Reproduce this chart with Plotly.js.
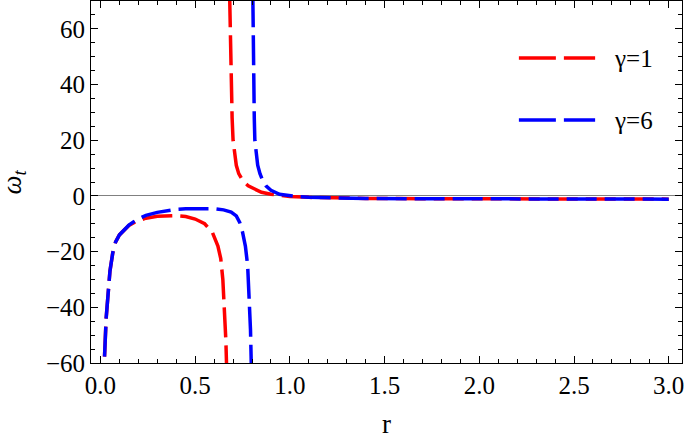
<!DOCTYPE html>
<html>
<head>
<meta charset="utf-8">
<script src="https://cdn.plot.ly/plotly-3.0.1.min.js"></script>
<style>
  html, body { margin: 0; padding: 0; background: #fff; }
  #plot { width: 685px; height: 440px; }
</style>
</head>
<body>
<div id="plot"></div>
<script>
// gamma = 1 (red): left branch, then the branch right of the pole
var r_g1 = [0.015, 0.02, 0.03, 0.04, 0.05, 0.065, 0.08, 0.1, 0.12, 0.15, 0.19, 0.24, 0.3, 0.35, 0.4, 0.45, 0.5, 0.55, 0.59, 0.62, 0.635, 0.646, 0.655, 0.662, 0.667, 0.671,
            null,
            0.678, 0.683, 0.686, 0.69, 0.695, 0.70, 0.708, 0.717, 0.73, 0.75, 0.78, 0.81, 0.85, 0.9, 0.95, 1.0, 1.1, 1.2, 1.4, 1.7, 2.0, 2.5, 3.0];
var w_g1 = [-85, -60, -44, -34, -27, -20.4, -16.5, -14, -12.6, -10.6, -9.1, -8, -7.3, -7.1, -7.1, -7.4, -8.3, -10, -13, -18, -22.5, -30, -40, -52, -64, -85,
            null,
            85, 65, 50, 38, 28, 20, 15, 11, 8, 5.6, 3.6, 2.5, 1.3, 0.6, 0.2, -0.2, -0.5, -0.7, -0.9, -1, -1.05, -1.1, -1.15];

// gamma = 6 (blue)
var r_g6 = [0.015, 0.02, 0.03, 0.04, 0.05, 0.065, 0.08, 0.1, 0.12, 0.15, 0.19, 0.24, 0.3, 0.35, 0.4, 0.45, 0.5, 0.55, 0.6, 0.65, 0.69, 0.717, 0.735, 0.75, 0.765, 0.777, 0.786, 0.792, 0.796, 0.8,
            null,
            0.802, 0.804, 0.806, 0.809, 0.812, 0.815, 0.822, 0.83, 0.842, 0.856, 0.875, 0.9, 0.945, 1.0, 1.05, 1.1, 1.2, 1.4, 1.7, 2.0, 2.5, 3.0];
var w_g6 = [-85, -60, -44, -34, -27, -20.4, -16.5, -14, -12.6, -10.5, -8.6, -7, -5.9, -5.2, -4.8, -4.6, -4.5, -4.5, -4.6, -5, -5.8, -7.2, -9.5, -13, -18, -25, -36, -48, -60, -85,
            null,
            85, 65, 50, 38, 28, 20, 15, 11, 8, 5.6, 3.5, 2, 0.6, 0, -0.3, -0.5, -0.7, -0.9, -1, -1.05, -1.1, -1.15];

var names = ["\u03b3=1", "\u03b3=6"];
var colors = ["#ff0000", "#0000ff"];

var serif = "Liberation Serif";

var data = [
  {
    x: r_g1, y: w_g1, name: names[0], type: "scatter", mode: "lines",
    connectgaps: false,
    line: { color: colors[0], width: 3.5, dash: "30px,8px" }
  },
  {
    x: r_g6, y: w_g6, name: names[1], type: "scatter", mode: "lines",
    connectgaps: false,
    line: { color: colors[1], width: 3.5, dash: "30px,8px" }
  }
];

// legend drawn as keys + labels so the long two-dash key of the original fits
var keyY = [0.8425, 0.671];
var shapes = [], annotations = [];
for (var i = 0; i < names.length; i++) {
  shapes.push({
    type: "line", xref: "paper", yref: "paper",
    x0: 0.724, x1: 0.853, y0: keyY[i], y1: keyY[i],
    line: { color: colors[i], width: 3.5, dash: "37px,8px" }
  });
  annotations.push({
    xref: "paper", yref: "paper", x: 0.882, y: keyY[i],
    xanchor: "left", yanchor: "middle", showarrow: false,
    text: names[i], font: { family: serif, size: 25, color: "#000" }
  });
}

// y axis title, placed further out than the axis title would go
annotations.push({
  xref: "paper", yref: "paper", x: -0.131, y: 0.5,
  xanchor: "center", yanchor: "middle", showarrow: false, textangle: -90,
  text: "<i>\u03c9</i><sub><i>t</i></sub>", font: { family: serif, size: 27, color: "#000" }
});

var layout = {
  width: 685,
  height: 440,
  margin: { l: 91, r: 3, t: 1, b: 77 },
  paper_bgcolor: "#fff",
  plot_bgcolor: "#fff",
  font: { family: serif, size: 25, color: "#000" },
  showlegend: false,
  shapes: shapes,
  annotations: annotations,
  xaxis: {
    range: [-0.05, 3.07],
    tickvals: [0, 0.5, 1, 1.5, 2, 2.5, 3],
    ticktext: ["0.0", "0.5", "1.0", "1.5", "2.0", "2.5", "3.0"],
    ticks: "inside", ticklen: 7, tickwidth: 1, tickcolor: "#000",
    tickfont: { family: serif, size: 25 },
    minor: { dtick: 0.1, tick0: 0, ticks: "inside", ticklen: 4, tickcolor: "#000", showgrid: false },
    showline: true, linecolor: "#000", linewidth: 1, mirror: "allticks",
    showgrid: false, zeroline: false,
    title: { text: "r", font: { family: serif, size: 27 }, standoff: 16 }
  },
  yaxis: {
    range: [-60, 70],
    tickvals: [-60, -40, -20, 0, 20, 40, 60],
    ticks: "inside", ticklen: 7, tickwidth: 1, tickcolor: "#000",
    tickfont: { family: serif, size: 25 },
    minor: { dtick: 5, tick0: 0, ticks: "inside", ticklen: 4, tickcolor: "#000", showgrid: false },
    showline: true, linecolor: "#000", linewidth: 1, mirror: "allticks",
    showgrid: false,
    zeroline: true, zerolinecolor: "#808080", zerolinewidth: 1
  }
};

Plotly.newPlot("plot", data, layout, { staticPlot: true });
</script>
</body>
</html>
